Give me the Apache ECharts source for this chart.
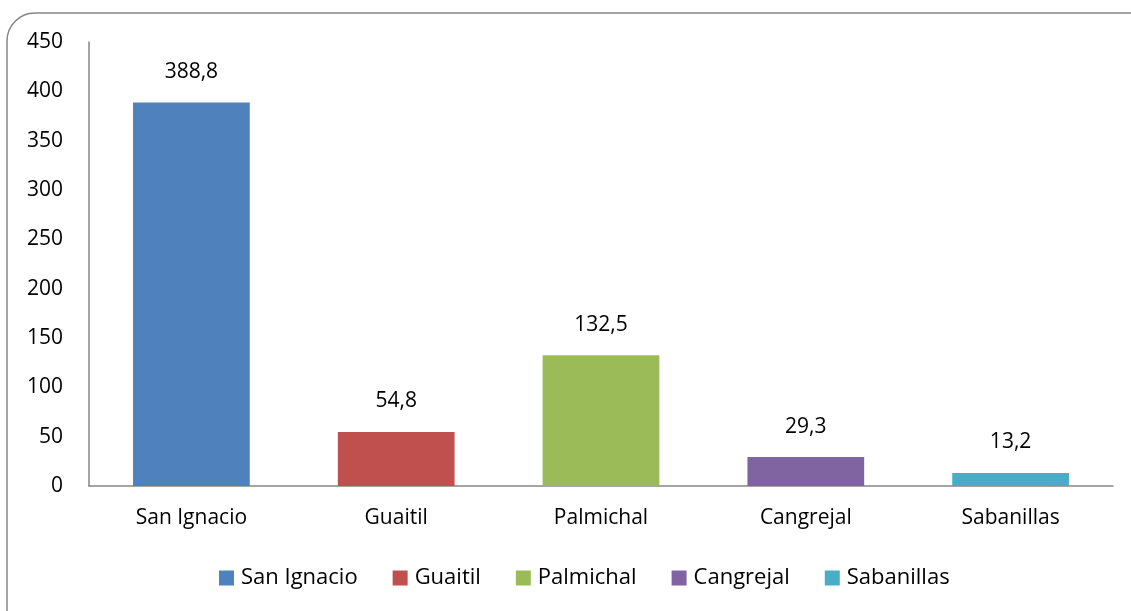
<!DOCTYPE html>
<html>
<head>
<meta charset="utf-8">
<script src="https://cdn.jsdelivr.net/npm/echarts@6/dist/echarts.min.js"></script>
<style>
  html, body { margin: 0; padding: 0; background: #fff; }
  #chart { width: 1131px; height: 611px; }
</style>
</head>
<body>
<div id="chart"></div>
<script>
var categories = ['San Ignacio', 'Guaitil', 'Palmichal', 'Cangrejal', 'Sabanillas'];
var values = [388.8, 54.8, 132.5, 29.3, 13.2];
var colors = ['#4f81bd', '#c0504d', '#9bbb59', '#8064a2', '#4bacc6'];
var yTicks = [0, 50, 100, 150, 200, 250, 300, 350, 400, 450];

var font = 'Open Sans';
var size = 21;

var myChart = echarts.init(document.getElementById('chart'));

// one series per category so the legend shows every place
var series = categories.map(function (name, i) {
  var data = categories.map(function (c, j) { return j === i ? values[i] : null; });
  return {
    name: name,
    type: 'bar',
    stack: 'total',
    barWidth: '57%',
    itemStyle: { color: colors[i] },
    label: {
      show: true,
      position: 'top',
      distance: 20,
      color: '#000',
      fontFamily: font,
      fontSize: size,
      formatter: function (p) { return String(p.value).replace('.', ','); }
    },
    data: data
  };
});

var option = {
  animation: false,
  graphic: [{
    type: 'rect',
    shape: { x: 7, y: 13, width: 1150, height: 640, r: 28 },
    style: { fill: 'none', stroke: '#868686', lineWidth: 1.5 },
    silent: true
  }],
  grid: { left: 89, right: 18, top: 42, bottom: 125, containLabel: false },
  legend: {
    top: 562,
    left: 214,
    itemWidth: 15,
    itemHeight: 15,
    itemGap: 35,
    icon: 'rect',
    textStyle: { color: '#000', fontFamily: font, fontSize: 22, padding: [0, 0, 0, 2] },
    data: categories
  },
  xAxis: {
    type: 'category',
    data: categories,
    axisLine: { lineStyle: { color: '#868686', width: 1.5 } },
    axisTick: { show: false },
    axisLabel: { color: '#000', fontFamily: font, fontSize: size, margin: 22 }
  },
  yAxis: {
    type: 'value',
    min: yTicks[0],
    max: yTicks[yTicks.length - 1],
    interval: yTicks[1] - yTicks[0],
    axisLine: { show: true, lineStyle: { color: '#868686', width: 1.5 } },
    axisTick: { show: false },
    splitLine: { show: false },
    axisLabel: { color: '#000', fontFamily: font, fontSize: size, margin: 26, align: 'right' }
  },
  series: series
};

myChart.setOption(option);
</script>
</body>
</html>
